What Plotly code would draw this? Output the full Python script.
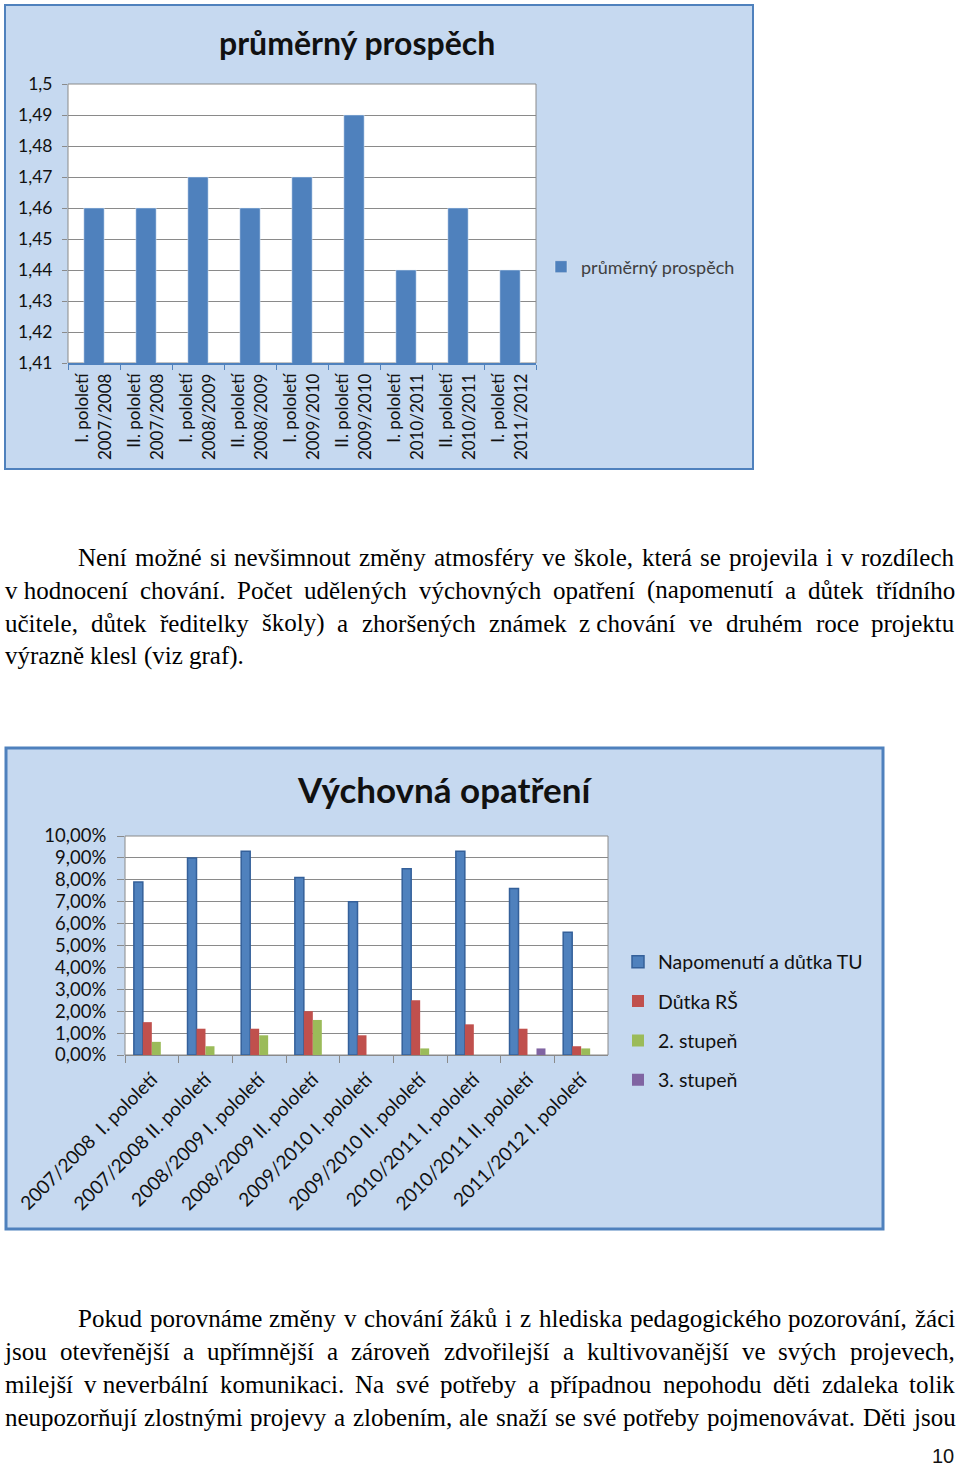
import unicodedata
import plotly.graph_objects as go

W, H = 960, 1468

# ---------------- data: chart 1 ----------------
c1_title = "průměrný prospěch"
c1_series = "průměrný prospěch"
c1_categories = ["I. pololetí 2007/2008", "II. pololetí 2007/2008", "I. pololetí 2008/2009",
                 "II. pololetí 2008/2009", "I. pololetí 2009/2010", "II. pololetí 2009/2010",
                 "I. pololetí 2010/2011", "II. pololetí 2010/2011", "I. pololetí 2011/2012"]
c1_ticktext = ["I. pololetí<br>2007/2008", "II. pololetí<br>2007/2008", "I. pololetí<br>2008/2009",
               "II. pololetí<br>2008/2009", "I. pololetí<br>2009/2010", "II. pololetí<br>2009/2010",
               "I. pololetí<br>2010/2011", "II. pololetí<br>2010/2011", "I. pololetí<br>2011/2012"]
c1_values = [1.46, 1.46, 1.47, 1.46, 1.47, 1.49, 1.44, 1.46, 1.44]
c1_yticks = [1.41, 1.42, 1.43, 1.44, 1.45, 1.46, 1.47, 1.48, 1.49, 1.50]
c1_yticklabels = ["1,41", "1,42", "1,43", "1,44", "1,45", "1,46", "1,47", "1,48", "1,49", "1,5"]

# ---------------- data: chart 2 ----------------
c2_title = "Výchovná opatření"
c2_categories = ["2007/2008\u00a0\u00a0I. pololetí", "2007/2008 II. pololetí", "2008/2009 I. pololetí",
                 "2008/2009 II. pololetí", "2009/2010 I. pololetí", "2009/2010 II. pololetí",
                 "2010/2011 I. pololetí", "2010/2011 II. pololetí", "2011/2012 I. pololetí"]
c2_series_names = ["Napomenutí a důtka TU", "Důtka RŠ", "2. stupeň", "3. stupeň"]
napomenuti_tu = [0.079, 0.090, 0.093, 0.081, 0.070, 0.085, 0.093, 0.076, 0.056]
dutka_rs = [0.015, 0.012, 0.012, 0.020, 0.009, 0.025, 0.014, 0.012, 0.004]
stupen_2 = [0.006, 0.004, 0.009, 0.016, 0.0, 0.003, 0.0, 0.0, 0.003]
stupen_3 = [0.0, 0.0, 0.0, 0.0, 0.0, 0.0, 0.0, 0.003, 0.0]
c2_yticks = [0.0, 0.01, 0.02, 0.03, 0.04, 0.05, 0.06, 0.07, 0.08, 0.09, 0.10]
c2_yticklabels = ["0,00%", "1,00%", "2,00%", "3,00%", "4,00%", "5,00%", "6,00%", "7,00%",
                  "8,00%", "9,00%", "10,00%"]

# ---------------- data: page text ----------------
paragraph_1 = [
    "Není možné si nevšimnout změny atmosféry ve škole, která se projevila i v rozdílech",
    "v\u00a0hodnocení chování. Počet udělených výchovných opatření (napomenutí a důtek třídního",
    "učitele, důtek ředitelky školy) a zhoršených známek z\u00a0chování ve druhém roce projektu",
    "výrazně klesl (viz graf).",
]
paragraph_2 = [
    "Pokud porovnáme změny v chování žáků i z hlediska pedagogického pozorování, žáci",
    "jsou otevřenější a upřímnější a zároveň zdvořilejší a kultivovanější ve svých projevech,",
    "milejší v\u00a0neverbální komunikaci. Na své potřeby a případnou nepohodu děti zdaleka tolik",
    "neupozorňují zlostnými projevy a zlobením, ale snaží se své potřeby pojmenovávat. Děti jsou",
]
page_number = "10"

# ---------------- styling ----------------
BLUE, RED, GREEN, PURPLE = "#4f81bd", "#c0504d", "#9bbb59", "#8064a2"
BOX_FILL = "#c6d9f0"
BOX_LINE = "#4f81bd"
GRID = "#8a8a8a"
SANS = "Lato, Open Sans, sans-serif"
SERIF = "Liberation Serif, Times New Roman, serif"


def px(x):
    return x / W


def py(y):
    return 1 - y / H


# plot areas (pixels)
A1 = dict(x0=68, x1=536, y0=84, y1=363)
A2 = dict(x0=125, x1=608, y0=836, y1=1055)

fig = go.Figure()

fig.add_trace(go.Bar(
    x=c1_categories, y=c1_values, name=c1_series, marker_color=BLUE, width=0.39,
    xaxis="x", yaxis="y", legend="legend",
))

c2_all = [napomenuti_tu, dutka_rs, stupen_2, stupen_3]
c2_colors = [BLUE, RED, GREEN, PURPLE]
for name, vals, col in zip(c2_series_names, c2_all, c2_colors):
    line = dict(color="#34609a", width=1.5) if col == BLUE else dict(width=0)
    fig.add_trace(go.Bar(
        x=c2_categories, y=vals, name=name, marker=dict(color=col, line=line),
        xaxis="x2", yaxis="y2", legend="legend2", legendgroup=name,
    ))

shapes = [
    dict(type="rect", xref="paper", yref="paper", x0=px(5), x1=px(753), y0=py(469), y1=py(5),
         fillcolor=BOX_FILL, line=dict(color=BOX_LINE, width=2), layer="below"),
    dict(type="rect", xref="paper", yref="paper", x0=px(6), x1=px(883), y0=py(1229), y1=py(748),
         fillcolor=BOX_FILL, line=dict(color=BOX_LINE, width=3), layer="below"),
]
for a in (A1, A2):
    shapes.append(dict(type="rect", xref="paper", yref="paper", x0=px(a["x0"]), x1=px(a["x1"]),
                       y0=py(a["y1"]), y1=py(a["y0"]), fillcolor="white",
                       line=dict(color=GRID, width=1), layer="below"))

annotations = [
    dict(text=c1_title, x=px(357), y=py(43), xref="paper", yref="paper", showarrow=False,
         font=dict(family=SANS, size=32, color="#111111", weight="bold"), xanchor="center", yanchor="middle"),
    dict(text=c2_title, x=px(445), y=py(789), xref="paper", yref="paper", showarrow=False,
         font=dict(family=SANS, size=35, color="#111111", weight="bold"), xanchor="center", yanchor="middle"),
    dict(text=page_number, x=px(956), y=py(1456), xref="paper", yref="paper", showarrow=False,
         font=dict(family="Liberation Sans Narrow, Liberation Sans, sans-serif", size=20, color="#111111"),
         xanchor="right", yanchor="middle"),
]

# --- justified paragraph text (Times metrics, per 1000 em) ---
TIMES = {" ": 250, "\u00a0": 250, ",": 250, ".": 250, "(": 333, ")": 333, "-": 333,
         "A": 722, "B": 667, "C": 667, "D": 722, "E": 611, "F": 556, "G": 722, "H": 722, "I": 333,
         "J": 389, "K": 722, "L": 611, "M": 889, "N": 722, "O": 722, "P": 556, "Q": 722, "R": 667,
         "S": 556, "T": 611, "U": 722, "V": 722, "W": 944, "X": 722, "Y": 722, "Z": 611,
         "a": 444, "b": 500, "c": 444, "d": 500, "e": 444, "f": 333, "g": 500, "h": 500, "i": 278,
         "j": 278, "k": 500, "l": 278, "m": 778, "n": 500, "o": 500, "p": 500, "q": 500, "r": 333,
         "s": 389, "t": 278, "u": 500, "v": 500, "w": 722, "x": 500, "y": 500, "z": 444}
FS = 25


def word_width(w):
    tot = 0
    for ch in w:
        base = unicodedata.normalize("NFD", ch)[0]
        tot += TIMES.get(base, 500)
    return tot * FS / 1000.0


def lay_line(line, x_start, x_end, yc, justify):
    words = line.split(" ")
    widths = [word_width(w) for w in words]
    if justify and len(words) > 1:
        gap = (x_end - x_start - sum(widths)) / (len(words) - 1)
    else:
        gap = word_width(" ")
    x = x_start
    for i, (w, wd) in enumerate(zip(words, widths)):
        last = justify and i == len(words) - 1
        cx = (x_end - wd / 2) if last else (x + wd / 2)
        annotations.append(dict(
            text=w, x=px(cx), y=py(yc), xref="paper", yref="paper",
            showarrow=False, xanchor="center", yanchor="middle",
            font=dict(family=SERIF, size=FS, color="#000000")))
        x += wd + gap


p1_y = [557, 590, 623, 656]
p2_y = [1318, 1351, 1384, 1417]
for i, (line, yc) in enumerate(zip(paragraph_1, p1_y)):
    lay_line(line, 78 if i == 0 else 5, 955, yc, justify=(i < len(paragraph_1) - 1))
for i, (line, yc) in enumerate(zip(paragraph_2, p2_y)):
    lay_line(line, 78 if i == 0 else 5, 955, yc, justify=True)

fig.update_layout(
    width=W, height=H, margin=dict(l=0, r=0, t=0, b=0),
    paper_bgcolor="white", plot_bgcolor="rgba(0,0,0,0)",
    barmode="group", bargap=0.33, bargroupgap=0.0,
    shapes=shapes, annotations=annotations,
    xaxis=dict(domain=[px(A1["x0"]), px(A1["x1"])], anchor="y", type="category",
               tickvals=c1_categories, ticktext=c1_ticktext, tickangle=-90,
               tickfont=dict(family=SANS, size=17, color="#111111"),
               showline=True, linecolor=BLUE, linewidth=1.5,
               ticks="outside", tickson="boundaries", ticklen=5, tickcolor=BLUE,
               ticklabelstandoff=2,
               showgrid=False, automargin=False, fixedrange=True),
    yaxis=dict(domain=[py(A1["y1"]), py(A1["y0"])], anchor="x", range=[1.41, 1.50],
               tickvals=c1_yticks, ticktext=c1_yticklabels,
               tickfont=dict(family=SANS, size=17.5, color="#111111"),
               showgrid=True, gridcolor=GRID, gridwidth=1, zeroline=False,
               ticks="outside", ticklen=5, tickcolor=GRID, showline=False,
               ticklabelstandoff=6,
               automargin=False, fixedrange=True),
    xaxis2=dict(domain=[px(A2["x0"]), px(A2["x1"])], anchor="y2", type="category",
                tickangle=-45, tickfont=dict(family=SANS, size=19, color="#111111"),
                showline=True, linecolor=GRID, linewidth=1,
                ticks="outside", tickson="boundaries", ticklen=7, tickcolor=GRID,
                ticklabelstandoff=5,
                showgrid=False, automargin=False, fixedrange=True),
    yaxis2=dict(domain=[py(A2["y1"]), py(A2["y0"])], anchor="x2", range=[0, 0.10],
                tickvals=c2_yticks, ticktext=c2_yticklabels,
                tickfont=dict(family=SANS, size=18.5, color="#111111"),
                showgrid=True, gridcolor=GRID, gridwidth=1, zeroline=False,
                ticks="outside", ticklen=7, tickcolor=GRID, showline=False,
                ticklabelstandoff=7,
                automargin=False, fixedrange=True),
    legend=dict(x=px(541), y=py(267), xanchor="left", yanchor="middle",
                bgcolor="rgba(0,0,0,0)", font=dict(family=SANS, size=18, color="#404040")),
    legend2=dict(x=px(618), y=py(1021), xanchor="left", yanchor="middle",
                 bgcolor="rgba(0,0,0,0)", traceorder="grouped", tracegroupgap=11,
                 font=dict(family=SANS, size=19.5, color="#111111")),
    showlegend=True,
)

fig.write_html("out.html")
